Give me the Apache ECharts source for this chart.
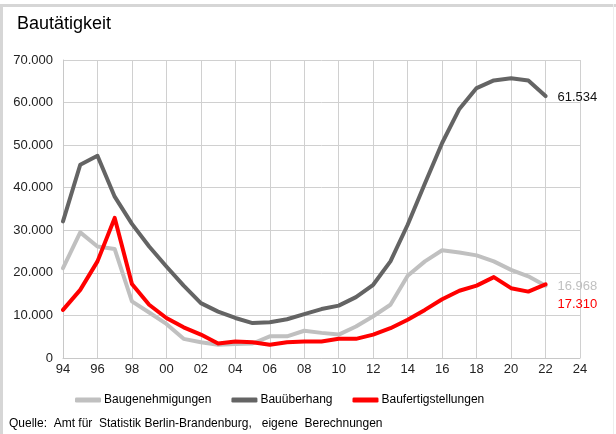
<!DOCTYPE html>
<html>
<head>
<meta charset="utf-8">
<script src="https://cdn.jsdelivr.net/npm/echarts@6/dist/echarts.min.js"></script>
<style>
html,body{margin:0;padding:0;background:#fff;}
#chart{width:616px;height:434px;}
</style>
</head>
<body>
<div id="chart"></div>
<script>
const years = [1994,1995,1996,1997,1998,1999,2000,2001,2002,2003,2004,2005,2006,2007,2008,2009,2010,2011,2012,2013,2014,2015,2016,2017,2018,2019,2020,2021,2022];
const baugenehmigungen = [21100,29500,26200,25600,13300,10700,8000,4500,3700,3100,3300,3400,5100,5100,6400,5900,5500,7400,9800,12500,19300,22700,25300,24800,24100,22700,20700,19200,16968];
const bauueberhang = [32100,45400,47500,37900,31500,26200,21500,17000,12900,10900,9400,8200,8400,9100,10300,11500,12300,14300,17200,22700,31300,41000,50500,58500,63400,65200,65700,65200,61534];
const baufertigstellungen = [11300,16000,22700,32900,17400,12500,9400,7200,5500,3400,3900,3700,3100,3700,3900,3900,4500,4500,5500,7000,9000,11300,13800,15800,17000,19000,16400,15600,17310];
const seriesNames = ['Baugenehmigungen','Bauüberhang','Baufertigstellungen'];
const yTicks = [0,10000,20000,30000,40000,50000,60000,70000];

const FONT = 'Liberation Sans, Arial, sans-serif';
function fmtDE(v){ return String(Math.round(v)).replace(/\B(?=(\d{3})+(?!\d))/g,'.'); }
function pairs(vals){ return years.map((y,i)=>[y, vals[i]]); }

const chart = echarts.init(document.getElementById('chart'), null, {renderer:'canvas'});
const lineSeries = (name, vals, color, labelColor, offset) => ({
  name, type:'line', data: pairs(vals), showSymbol:false, symbol:'none',
  lineStyle:{color, width:4, cap:'round', join:'round'},
  itemStyle:{color},
  endLabel:{show:true, formatter:(p)=>fmtDE(p.value[1]), color:labelColor, fontFamily:FONT, fontSize:13, distance:12, offset},
  animation:false, z: 3
});

chart.setOption({
  animation:false,
  backgroundColor:'#fff',
  title:{text:'Bautätigkeit', left:17, top:15, padding:0, textStyle:{fontFamily:FONT, fontSize:18, fontWeight:'normal', color:'#000'}},
  grid:{left:63, right:36, top:60, bottom:76, containLabel:false},
  xAxis:{type:'value', min:1994, max:2024, interval:2,
    axisLine:{show:true, lineStyle:{color:'#c8c8c8', width:1}},
    axisTick:{show:false},
    splitLine:{show:true, lineStyle:{color:'#d0d0d0', width:1}},
    axisLabel:{formatter:(v)=>String(v%100).padStart(2,'0'), fontFamily:FONT, fontSize:13, color:'#222', margin:5}
  },
  yAxis:{type:'value', min:yTicks[0], max:yTicks[yTicks.length-1], interval:10000,
    axisLine:{show:true, lineStyle:{color:'#c8c8c8', width:1}},
    axisTick:{show:false},
    splitLine:{show:true, lineStyle:{color:'#d0d0d0', width:1}},
    axisLabel:{formatter:(v)=>fmtDE(v), fontFamily:FONT, fontSize:13, color:'#222', margin:10}
  },
  legend:{data:seriesNames, left:70, top:389, itemWidth:26, itemHeight:5, itemGap:20, icon:'roundRect',
    textStyle:{fontFamily:FONT, fontSize:12, color:'#000', padding:[0,0,0,-2]}},
  series:[
    lineSeries(seriesNames[0], baugenehmigungen, '#c0c0c0', '#c0c0c0', [0,1]),
    lineSeries(seriesNames[1], bauueberhang, '#646464', '#111', [0,1]),
    lineSeries(seriesNames[2], baufertigstellungen, '#ff0000', '#ff0000', [0,20])
  ],
  graphic:[
    {type:'rect', left:0, top:4, shape:{width:616, height:3}, style:{fill:'#d6d6d6'}},
    {type:'rect', left:0, top:4, shape:{width:3, height:430}, style:{fill:'#d6d6d6'}},
    {type:'rect', left:613, top:4, shape:{width:1, height:430}, style:{fill:'#eeeeee'}},
    {type:'text', left:9, top:418, style:{text:'Quelle:  Amt für  Statistik Berlin-Brandenburg,   eigene  Berechnungen', font:'12px Liberation Sans, Arial, sans-serif', fill:'#000'}}
  ]
});
</script>
</body>
</html>
